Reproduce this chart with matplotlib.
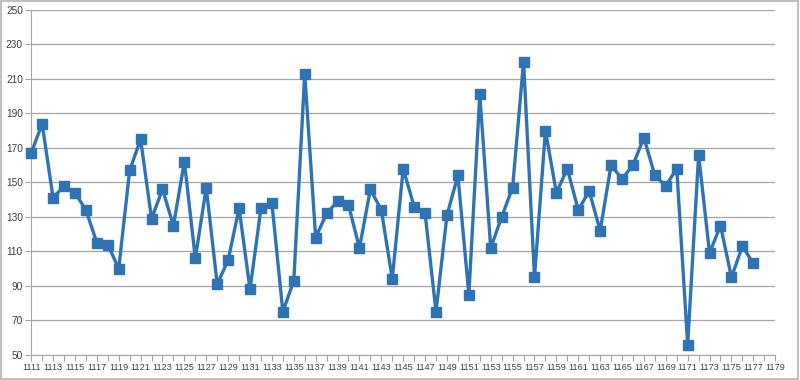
import matplotlib
matplotlib.use('Agg')
import matplotlib.pyplot as plt
from matplotlib.patches import Rectangle
import numpy as np

# categories 1111..1179, data up to 1177
categories = list(range(1111, 1180))
values = [167, 184, 141, 148, 144, 134, 115, 114, 100, 157,
          175, 129, 146, 125, 162, 106, 147, 91, 105, 135,
          88, 135, 138, 75, 93, 213, 118, 132, 139, 137,
          112, 146, 134, 94, 158, 136, 132, 75, 131, 154,
          85, 201, 112, 130, 147, 220, 95, 180, 144, 158,
          134, 145, 122, 160, 152, 160, 176, 154, 148, 158,
          56, 166, 109, 125, 95, 113, 103]
y_ticks = list(range(50, 251, 20))

plt.rcParams['font.family'] = ['Liberation Sans', 'DejaVu Sans']

fig = plt.figure(figsize=(8, 3.8), dpi=100)
ax = fig.add_axes([0.039, 0.066, 0.930, 0.908])

x = np.arange(len(categories))
ax.plot(x[:len(values)], values, color='#2e73b4', linewidth=2.4,
        marker='s', markersize=7.5, markerfacecolor='#2e73b4',
        markeredgecolor='#2e73b4', zorder=3, clip_on=False)

ax.set_xlim(0, len(categories) - 1)
ax.set_ylim(50, 250)
ax.set_yticks(y_ticks)
ax.set_xticks(x)
ax.set_xticklabels([str(c) if i % 2 == 0 else '' for i, c in enumerate(categories)])
ax.yaxis.grid(True, color='#a6a6a6', linewidth=0.9)
ax.set_axisbelow(True)

for s in ['top', 'right']:
    ax.spines[s].set_visible(False)
ax.spines['left'].set_color('#a6a6a6')
ax.spines['bottom'].set_color('#a6a6a6')
ax.tick_params(axis='x', length=4, color='#a6a6a6', labelsize=6.6,
               labelcolor='#404040', pad=2)
ax.tick_params(axis='y', length=4, color='#a6a6a6', labelsize=7.3,
               labelcolor='#404040', pad=2)

# chart frame
fig.patches.append(Rectangle((0.001, 0.002), 0.997, 0.995, transform=fig.transFigure,
                             fill=False, edgecolor='#b4b4b4', linewidth=1.2))

fig.savefig('out.png', dpi=100)
